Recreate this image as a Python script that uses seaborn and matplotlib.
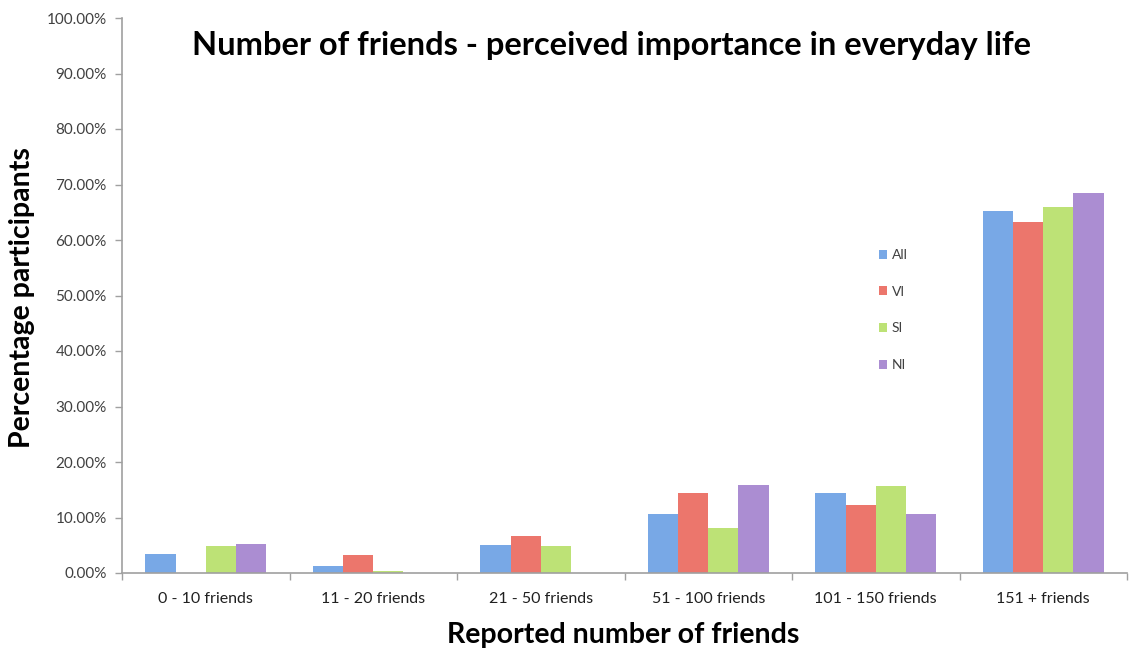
import matplotlib
matplotlib.use("Agg")
import matplotlib.pyplot as plt
import seaborn as sns
import pandas as pd
from matplotlib.ticker import FuncFormatter, FixedLocator

categories = ["0 - 10 friends", "11 - 20 friends", "21 - 50 friends",
              "51 - 100 friends", "101 - 150 friends", "151 + friends"]
series = ["All", "VI", "SI", "NI"]
all_vals = [3.4, 1.3, 5.1, 10.6, 14.4, 65.3]
vi_vals = [0.0, 3.3, 6.7, 14.5, 12.2, 63.3]
si_vals = [4.9, 0.4, 4.9, 8.1, 15.6, 66.0]
ni_vals = [5.2, 0.0, 0.0, 15.9, 10.6, 68.5]

colors = ["#78a8e6", "#ec766c", "#bde276", "#ab8dd2"]

rows = []
for s, vals in zip(series, [all_vals, vi_vals, si_vals, ni_vals]):
    for c, v in zip(categories, vals):
        rows.append({"Category": c, "Series": s, "Value": v})
df = pd.DataFrame(rows)

sns.set_theme(style="white")
plt.rcParams["font.family"] = ["Lato", "DejaVu Sans"]

W, H = 1142, 652
fig = plt.figure(figsize=(W / 100, H / 100), dpi=100)
ax = fig.add_axes([122 / W, (H - 573) / H, (1127 - 122) / W, (573 - 18) / H])

sns.barplot(data=df, x="Category", y="Value", hue="Series", order=categories,
            hue_order=series, palette=colors, width=0.72, saturation=1,
            linewidth=0, ax=ax, legend=True)

ax.set_ylim(0, 100)
ax.set_xlim(-0.5, len(categories) - 0.5)
ax.set_yticks(range(0, 101, 10))
ax.yaxis.set_major_formatter(FuncFormatter(lambda v, p: f"{v:.2f}%"))
for sp in ["top", "right"]:
    ax.spines[sp].set_visible(False)
for sp in ["left", "bottom"]:
    ax.spines[sp].set_color("#a0a0a0")
    ax.spines[sp].set_linewidth(1.2)

ax.tick_params(axis="y", which="major", direction="out", length=5, width=1,
               color="#a0a0a0", labelsize=11, labelcolor="#404040", left=True, pad=6)
ax.tick_params(axis="x", which="major", length=0, labelsize=11.5,
               labelcolor="#202020", pad=14)
ax.xaxis.set_minor_locator(FixedLocator([i - 0.5 for i in range(len(categories) + 1)]))
ax.tick_params(axis="x", which="minor", direction="out", length=5, width=1,
               color="#a0a0a0", bottom=True)

ax.set_xlabel("")
ax.set_ylabel("")
fig.text(22 / W, 1 - 298 / H, "Percentage participants", rotation=90,
         ha="center", va="center", fontsize=20.5, fontweight="bold", color="#000000")
fig.text(623 / W, 1 - 635 / H, "Reported number of friends",
         ha="center", va="center", fontsize=20.5, fontweight="bold", color="#000000")
fig.text(612 / W, 1 - 45 / H, "Number of friends - perceived importance in everyday life",
         ha="center", va="center", fontsize=23.5, fontweight="bold", color="#000000")

leg = ax.legend(loc="upper left", bbox_to_anchor=(879 / W, 1 - 249 / H),
                bbox_transform=fig.transFigure, frameon=False, fontsize=10,
                handlelength=0.6, handleheight=0.6, handletextpad=0.3,
                labelspacing=1.78, borderaxespad=0, borderpad=0)
for t in leg.get_texts():
    t.set_color("#404040")

fig.savefig("out.png", dpi=100)
